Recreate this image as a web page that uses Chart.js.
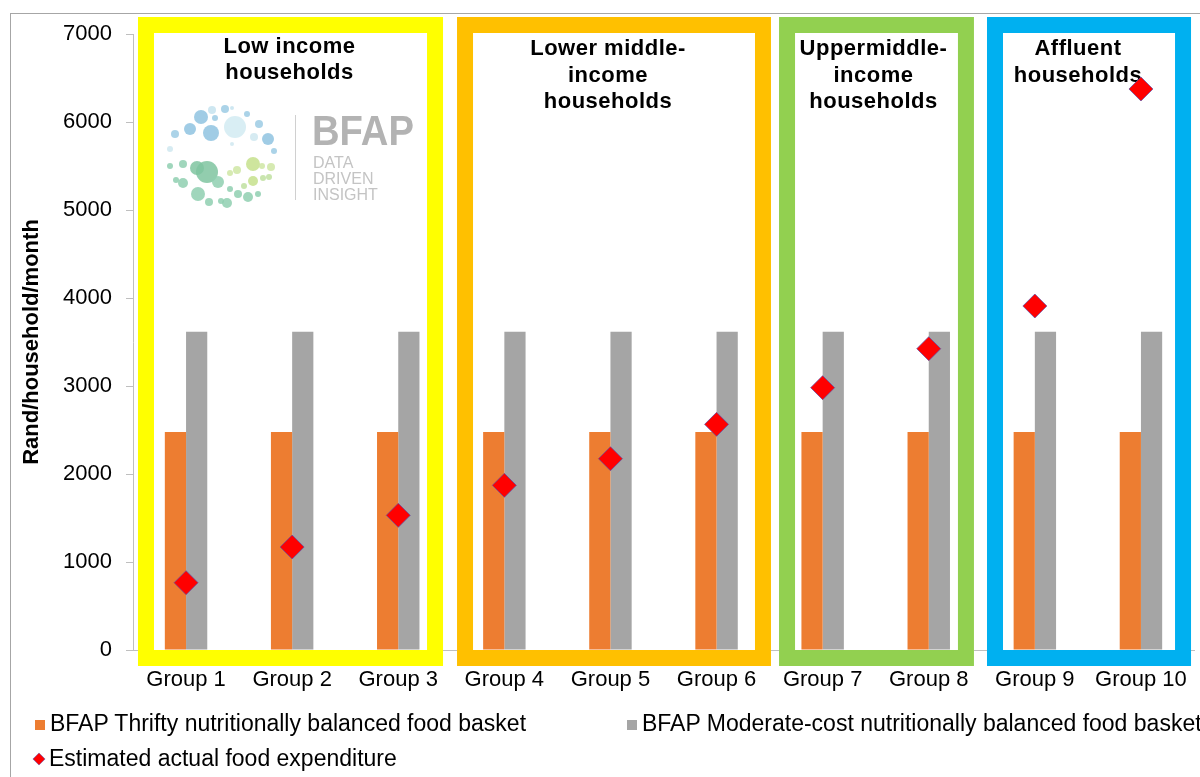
<!DOCTYPE html>
<html>
<head>
<meta charset="utf-8">
<title>BFAP food basket vs expenditure</title>
<script src="https://cdn.jsdelivr.net/npm/chart.js@4.4.0/dist/chart.umd.min.js"></script>
<style>
  body { margin: 0; background: #fff; overflow: hidden; }
  #wrap { position: relative; width: 1200px; height: 777px; overflow: hidden; font-family: "Liberation Sans", Arial, sans-serif; }
  #chart { position: absolute; left: 0; top: 0; }
  #frame { position: absolute; left: 10px; top: 13px; width: 1300px; height: 900px; border: 1px solid #a6a6a6; }
  .leg { position: absolute; font-size: 23px; color: #000; white-space: nowrap; line-height: 26px; }
  .sq { display: inline-block; width: 10px; height: 10px; margin-right: 5px; vertical-align: 1px; }
  .dia { display: inline-block; width: 8px; height: 8px; background: #ff0000; transform: rotate(45deg); margin: 0 6px 0 2px; vertical-align: 3px; box-shadow: 0 0 0 0.5px #6a5fb0; }
</style>
</head>
<body>
<div id="wrap">
  <div id="frame"></div>
  <canvas id="chart" width="1200" height="777"></canvas>
  <div class="leg" style="left:35px; top:710px;"><span class="sq" style="background:#ED7D31"></span>BFAP Thrifty nutritionally balanced food basket</div>
  <div class="leg" style="left:627px; top:710px;"><span class="sq" style="background:#A5A5A5"></span>BFAP Moderate-cost nutritionally balanced food basket</div>
  <div class="leg" style="left:33px; top:745px;"><span class="dia"></span>Estimated actual food expenditure</div>
</div>
<script>
// chart data
const groups = ["Group 1", "Group 2", "Group 3", "Group 4", "Group 5", "Group 6", "Group 7", "Group 8", "Group 9", "Group 10"];
const thrifty = [2477, 2477, 2477, 2477, 2477, 2477, 2477, 2477, 2477, 2477];
const moderate = [3617, 3617, 3617, 3617, 3617, 3617, 3617, 3617, 3617, 3617];
const actual = [765, 1170, 1530, 1871, 2174, 2564, 2981, 3424, 3909, 6375];
const yTicks = [0, 1000, 2000, 3000, 4000, 5000, 6000, 7000];

// income bands: label lines and the span of groups (category index) they cover
const bandLabels = [
    ["Low income", "households"],
    ["Lower middle-", "income", "households"],
    ["Uppermiddle-", "income", "households"],
    ["Affluent", "households"]
];
const bandFrom = [-0.453, 2.554, 5.589, 7.549];
const bandTo = [2.422, 5.513, 7.426, 9.472];

// styling for the band frames
const bandColors = ["#FFFF00", "#FFC000", "#92D050", "#00B0F0"];
const bandTextShift = [-1, -6, -3, -11];
const bandLineWidth = 16;

const FONT = "'Liberation Sans', Arial, sans-serif";

// logo circles (decoration): x, y, r, colour
const logoDots = [
    [201, 117, 7, "#8fc3e0"], [212, 110, 4, "#c6e3ef"], [225, 109, 4, "#9ccbe4"], [232, 108, 2, "#c6e3ef"],
    [190, 129, 6, "#8fc3e0"], [175, 134, 4, "#9ccbe4"], [211, 133, 8, "#8fc3e0"], [235, 127, 11, "#d2ebf2"],
    [215, 118, 3, "#9ccbe4"], [247, 114, 3, "#9ccbe4"], [259, 124, 4, "#9ccbe4"], [268, 139, 6, "#8fc3e0"],
    [254, 137, 4, "#cfe8f0"], [274, 151, 3, "#9ccbe4"], [170, 149, 3, "#cfe8f0"], [232, 144, 2, "#cfe8f0"],
    [170, 166, 3, "#8fcfb0"], [183, 164, 4, "#8fcfb0"], [197, 168, 7, "#7fc4a0"], [207, 172, 11, "#7fc4a0"],
    [218, 182, 6, "#8fcfb0"], [176, 180, 3, "#8fcfb0"], [183, 183, 5, "#8fcfb0"], [198, 194, 7, "#8fcfb0"],
    [209, 202, 4, "#8fcfb0"], [221, 201, 3, "#8fcfb0"], [227, 203, 5, "#8fcfb0"], [230, 189, 3, "#8fcfb0"],
    [238, 194, 4, "#8fcfb0"], [248, 197, 5, "#8fcfb0"], [258, 194, 3, "#8fcfb0"], [230, 173, 3, "#cfe6a4"],
    [237, 170, 4, "#cfe6a4"], [253, 164, 7, "#c5e08c"], [262, 166, 3, "#cfe6a4"], [271, 167, 4, "#cfe6a4"],
    [253, 181, 5, "#c5e08c"], [244, 186, 3, "#bfe0a0"], [263, 178, 3, "#bfe0a0"], [269, 177, 3, "#bfe0a0"]
];

// draws the coloured income-band frames, their titles and the logo behind the bars
const bandPlugin = {
    id: "bands",
    beforeDatasetsDraw(chart) {
        const ctx = chart.ctx;
        const x = chart.scales.x;
        const area = chart.chartArea;
        const top = area.top - 17;
        const bottom = area.bottom + 16;
        ctx.save();
        for (let i = 0; i < bandLabels.length; i++) {
            const left = x.getPixelForValue(bandFrom[i]);
            const right = x.getPixelForValue(bandTo[i]);
            ctx.fillStyle = "#fff";
            ctx.fillRect(left, top, right - left, bottom - top);
            ctx.strokeStyle = bandColors[i];
            ctx.lineWidth = bandLineWidth;
            const h = bandLineWidth / 2;
            ctx.strokeRect(left + h, top + h, right - left - bandLineWidth, bottom - top - bandLineWidth);
            // title
            ctx.fillStyle = "#000";
            ctx.font = "bold 22px " + FONT;
            ctx.letterSpacing = "0.5px";
            ctx.textAlign = "center";
            ctx.textBaseline = "middle";
            const cx = (left + right) / 2 + bandTextShift[i];
            const startY = i === 0 ? 47 : 49;
            const step = i === 0 ? 26 : 26.5;
            bandLabels[i].forEach(function (line, j) {
                ctx.fillText(line, cx, startY + j * step);
            });
            ctx.letterSpacing = "0px";
        }
        // logo
        logoDots.forEach(function (d) {
            ctx.beginPath();
            ctx.globalAlpha = 0.85;
            ctx.fillStyle = d[3];
            ctx.arc(d[0], d[1], d[2], 0, Math.PI * 2);
            ctx.fill();
        });
        ctx.globalAlpha = 1;
        ctx.strokeStyle = "#d0d0d0";
        ctx.lineWidth = 1;
        ctx.beginPath();
        ctx.moveTo(295.5, 115);
        ctx.lineTo(295.5, 200);
        ctx.stroke();
        ctx.textAlign = "left";
        ctx.textBaseline = "alphabetic";
        ctx.fillStyle = "#b3b3b3";
        ctx.font = "bold 42px " + FONT;
        ctx.save();
        ctx.translate(312, 145);
        ctx.scale(0.91, 1);
        ctx.fillText("BFAP", 0, 0);
        ctx.restore();
        ctx.fillStyle = "#c4c4c4";
        ctx.font = "16px " + FONT;
        ctx.fillText("DATA", 313, 168);
        ctx.fillText("DRIVEN", 313, 184);
        ctx.fillText("INSIGHT", 313, 200);
        ctx.restore();
    }
};

const ctx = document.getElementById("chart").getContext("2d");

new Chart(ctx, {
    type: "bar",
    data: {
        labels: groups,
        datasets: [
            {
                label: "Estimated actual food expenditure",
                type: "line",
                data: actual,
                showLine: false,
                pointStyle: "rectRot",
                pointRadius: 12,
                pointBackgroundColor: "#FF0000",
                pointBorderColor: "rgba(90, 80, 170, 0.7)",
                pointBorderWidth: 1,
                order: 0
            },
            {
                label: "BFAP Thrifty nutritionally balanced food basket",
                data: thrifty,
                backgroundColor: "#ED7D31",
                categoryPercentage: 0.4,
                barPercentage: 1.0,
                order: 1
            },
            {
                label: "BFAP Moderate-cost nutritionally balanced food basket",
                data: moderate,
                backgroundColor: "#A5A5A5",
                categoryPercentage: 0.4,
                barPercentage: 1.0,
                order: 1
            }
        ]
    },
    options: {
        responsive: false,
        animation: false,
        devicePixelRatio: 1,
        // the big diamonds would otherwise add their radius as extra padding
        layout: { autoPadding: false, padding: { top: 34, right: 6, left: 0, bottom: 0 } },
        plugins: {
            legend: { display: false },
            tooltip: { enabled: false }
        },
        scales: {
            x: {
                // invisible tick marks push the labels down
                grid: { display: true, drawOnChartArea: false, drawTicks: true, tickLength: 17, tickColor: "rgba(0,0,0,0)" },
                border: { color: "#BFBFBF", width: 1 },
                ticks: {
                    color: "#000",
                    font: { family: FONT, size: 22 },
                    maxRotation: 0,
                    autoSkip: false,
                    padding: 0
                },
                afterFit(scale) { scale.height = 127; }
            },
            y: {
                min: 0,
                max: 7000,
                afterBuildTicks(scale) { scale.ticks = yTicks.map(v => ({ value: v })); },
                grid: { drawOnChartArea: false, tickLength: 7, color: "#BFBFBF" },
                border: { color: "#BFBFBF", width: 1 },
                ticks: {
                    color: "#000",
                    font: { family: FONT, size: 22 },
                    padding: 14,
                    callback: v => String(v)
                },
                title: {
                    display: true,
                    text: "Rand/household/month",
                    color: "#000",
                    font: { family: FONT, size: 22, weight: "bold" },
                    padding: { top: 19, bottom: 0 }
                },
                afterFit(scale) { scale.width = 133; }
            }
        }
    },
    plugins: [bandPlugin]
});
</script>
</body>
</html>
